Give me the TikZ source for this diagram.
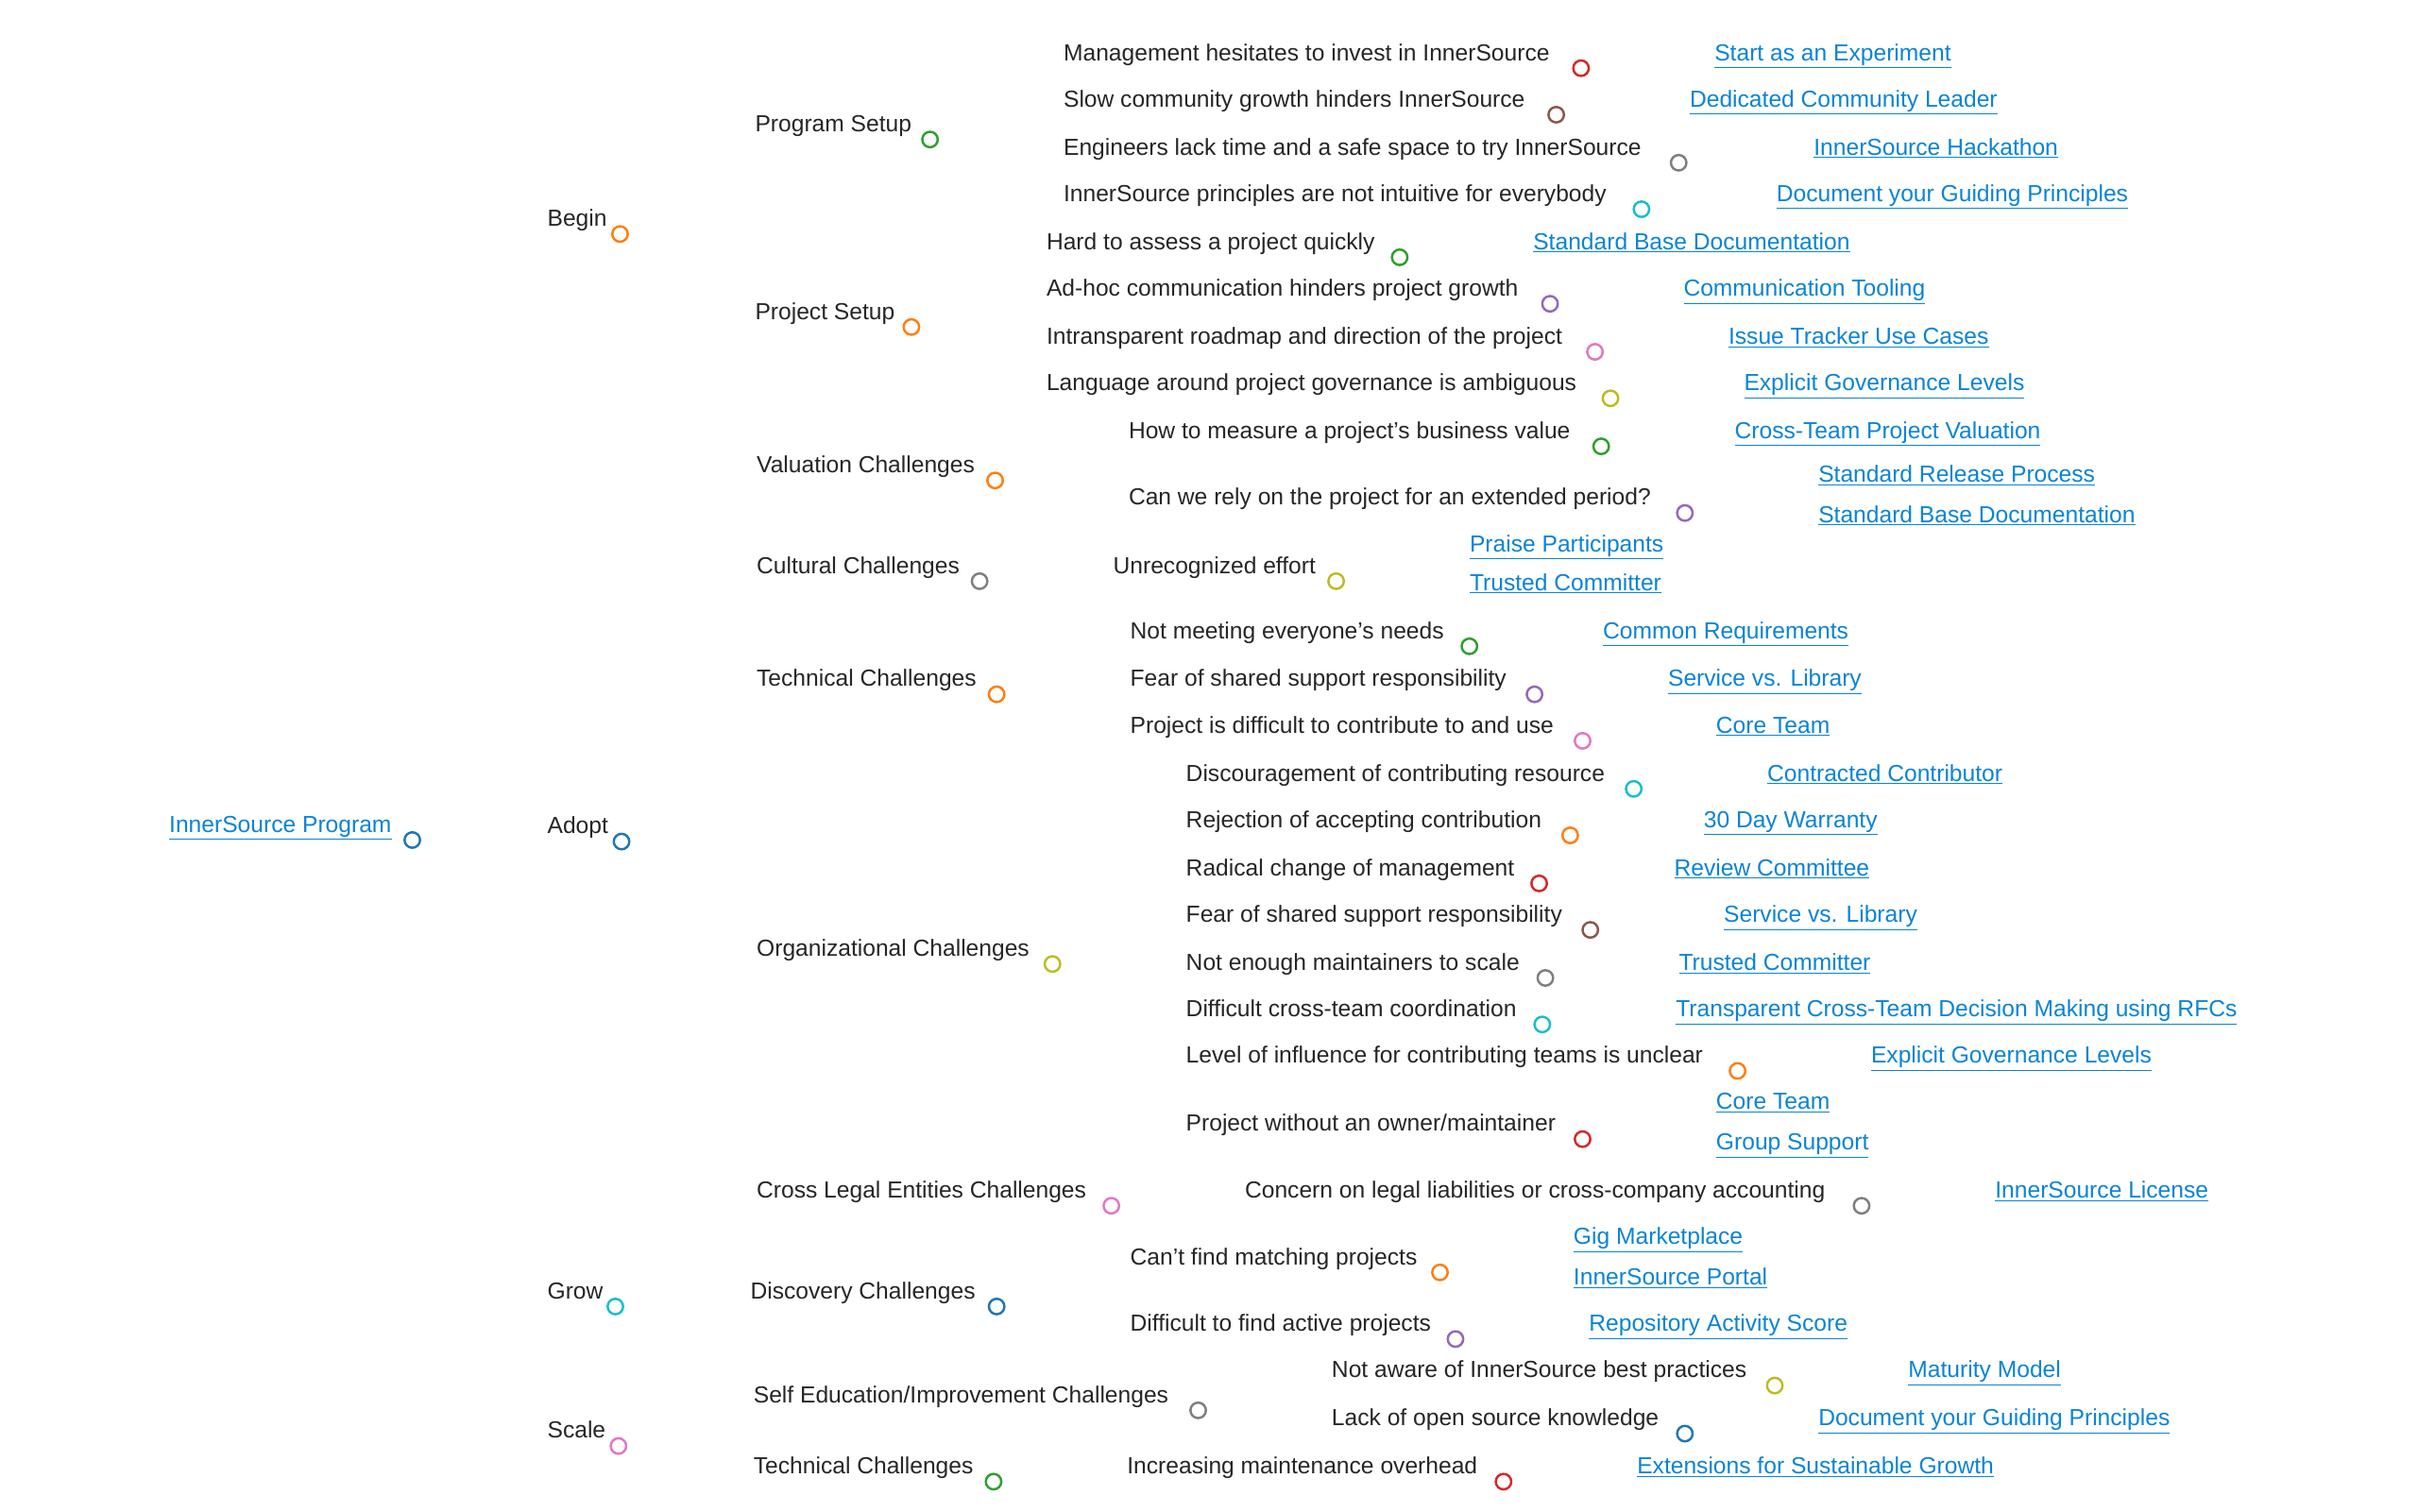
\documentclass[tikz,border=0pt]{standalone}
\usepackage{fontspec}
\setmainfont{Liberation Sans}
\usetikzlibrary{calc}
\pgfdeclarelayer{bg}\pgfsetlayers{bg,main}
\definecolor{cblue}{HTML}{1F77B4}\definecolor{corange}{HTML}{FF7F0E}
\definecolor{cgreen}{HTML}{2CA02C}\definecolor{cred}{HTML}{D62728}
\definecolor{cpurple}{HTML}{9467BD}\definecolor{cbrown}{HTML}{8C564B}
\definecolor{cpink}{HTML}{E377C2}\definecolor{cgray}{HTML}{7F7F7F}
\definecolor{colive}{HTML}{BCBD22}\definecolor{ccyan}{HTML}{17BECF}
\definecolor{link}{HTML}{0A84D6}
\tikzset{
 edge/.style={line width=1.5pt},
 txt/.style={anchor=base west,inner sep=0pt,font=\fontsize{15}{18}\selectfont,text=black!85},
 lnk/.style={txt,text=link},
 dot/.style={circle,fill=white,line width=1.5pt,minimum size=10pt,inner sep=0pt}
}
\newcommand\mnode[7]{%
 \coordinate (#1-l) at (#3-9,#4);\coordinate (#1) at (#5,#4);
 \coordinate (#1-m) at ($(#2)!0.5!(#1-l)$);
 \begin{pgfonlayer}{bg}\draw[edge,#6] (#2) .. controls (#1-m |- #2) and (#1-m |- #1-l) .. (#1-l) -- (#1);\end{pgfonlayer}
 \node[txt] (#1-t) at (#3,#4-5) {#7};
 \node[dot,draw=#6] (#1-d) at (#1) {};}
\newcommand\mleaf[7]{%
 \coordinate (#1-l) at (#3-9,#4);\coordinate (#1) at (#5,#4);
 \coordinate (#1-m) at ($(#2)!0.5!(#1-l)$);
 \begin{pgfonlayer}{bg}\draw[edge,#6] (#2) .. controls (#1-m |- #2) and (#1-m |- #1-l) .. (#1-l) -- (#1);\end{pgfonlayer}
 \node[lnk] (#1-t) at (#3,#4-5) {\underline{#7}};}
\begin{document}
\begin{tikzpicture}[x=1pt,y=-1pt]
\useasboundingbox[fill=white] (0,0) rectangle (1560,975);
\coordinate (root) at (266,542);\coordinate (root-l) at (100,542);
\begin{pgfonlayer}{bg}\draw[line width=2.2pt,cblue] (root-l) -- (root);\end{pgfonlayer}
\node[lnk] (root-t) at (109,537) {\underline{InnerSource Program}};
\node[dot,draw=cblue] (root-d) at (root) {};
% Begin
\mnode{beg}{root}{353}{151}{400}{corange}{Begin}
\mnode{ps}{beg}{487}{90}{600}{cgreen}{Program Setup}
\mnode{a1}{ps}{686}{44}{1020}{cred}{Management hesitates to invest in InnerSource}
\mleaf{b1}{a1}{1106}{44}{1275}{cpurple}{Start as an Experiment}
\mnode{a2}{ps}{686}{74}{1004}{cbrown}{Slow community growth hinders InnerSource}
\mleaf{b2}{a2}{1090}{74}{1306}{cpink}{Dedicated Community Leader}
\mnode{a3}{ps}{686}{105}{1083}{cgray}{Engineers lack time and a safe space to try InnerSource}
\mleaf{b3}{a3}{1170}{105}{1342}{colive}{InnerSource Hackathon}
\mnode{a4}{ps}{686}{135}{1059}{ccyan}{InnerSource principles are not intuitive for everybody}
\mleaf{b4}{a4}{1146}{135}{1391}{cblue}{Document your Guiding Principles}
\mnode{pj}{beg}{487}{211}{588}{corange}{Project Setup}
\mnode{a5}{pj}{675}{166}{903}{cgreen}{Hard to assess a project quickly}
\mleaf{b5}{a5}{989}{166}{1211}{cred}{Standard Base Documentation}
\mnode{a6}{pj}{675}{196}{1000}{cpurple}{Ad-hoc communication hinders project growth}
\mleaf{b6}{a6}{1086}{196}{1257}{cbrown}{Communication Tooling}
\mnode{a7}{pj}{675}{227}{1029}{cpink}{Intransparent roadmap and direction of the project}
\mleaf{b7}{a7}{1115}{227}{1299}{cgray}{Issue Tracker Use Cases}
\mnode{a8}{pj}{675}{257}{1039}{colive}{Language around project governance is ambiguous}
\mleaf{b8}{a8}{1125}{257}{1322}{ccyan}{Explicit Governance Levels}
% Adopt
\mnode{ado}{root}{353}{543}{401}{cblue}{Adopt}
\mnode{vc}{ado}{488}{310}{642}{corange}{Valuation Challenges}
\mnode{c1}{vc}{728}{288}{1033}{cgreen}{How to measure a project's business value}
\mleaf{d1}{c1}{1119}{288}{1333}{cred}{Cross-Team Project Valuation}
\mnode{c2}{vc}{728}{331}{1087}{cpurple}{Can we rely on the project for an extended period?}
\mleaf{d2}{c2}{1173}{316}{1368}{cbrown}{Standard Release Process}
\mleaf{d3}{c2}{1173}{342}{1395}{cpink}{Standard Base Documentation}
\mnode{cc}{ado}{488}{375}{632}{cgray}{Cultural Challenges}
\mnode{c3}{cc}{718}{375}{862}{colive}{Unrecognized effort}
\mleaf{d4}{c3}{948}{361}{1087}{ccyan}{Praise Participants}
\mleaf{d5}{c3}{948}{386}{1087}{cblue}{Trusted Committer}
\mnode{tc}{ado}{488}{448}{643}{corange}{Technical Challenges}
\mnode{c4}{tc}{729}{417}{948}{cgreen}{Not meeting everyone's needs}
\mleaf{d6}{c4}{1034}{417}{1209}{cred}{Common Requirements}
\mnode{c5}{tc}{729}{448}{990}{cpurple}{Fear of shared support responsibility}
\mleaf{d7}{c5}{1076}{448}{1215}{cbrown}{Service vs. Library}
\mnode{c6}{tc}{729}{478}{1021}{cpink}{Project is difficult to contribute to and use}
\mleaf{d8}{c6}{1107}{478}{1192}{cgray}{Core Team}
\mnode{oc}{ado}{488}{622}{679}{colive}{Organizational Challenges}
\mnode{e1}{oc}{765}{509}{1054}{ccyan}{Discouragement of contributing resource}
\mleaf{f1}{e1}{1140}{509}{1308}{cblue}{Contracted Contributor}
\mnode{e2}{oc}{765}{539}{1013}{corange}{Rejection of accepting contribution}
\mleaf{f2}{e2}{1099}{539}{1226}{cgreen}{30 Day Warranty}
\mnode{e3}{oc}{765}{570}{993}{cred}{Radical change of management}
\mleaf{f3}{e3}{1080}{570}{1221}{cpurple}{Review Committee}
\mnode{e4}{oc}{765}{600}{1026}{cbrown}{Fear of shared support responsibility}
\mleaf{f4}{e4}{1112}{600}{1250}{cpink}{Service vs. Library}
\mnode{e5}{oc}{765}{631}{997}{cgray}{Not enough maintainers to scale}
\mleaf{f5}{e5}{1083}{631}{1222}{colive}{Trusted Committer}
\mnode{e6}{oc}{765}{661}{995}{ccyan}{Difficult cross-team coordination}
\mleaf{f6}{e6}{1081}{661}{1467}{cblue}{Transparent Cross-Team Decision Making using RFCs}
\mnode{e7}{oc}{765}{691}{1121}{corange}{Level of influence for contributing teams is unclear}
\mleaf{f7}{e7}{1207}{691}{1405}{cgreen}{Explicit Governance Levels}
\mnode{e8}{oc}{765}{735}{1021}{cred}{Project without an owner/maintainer}
\mleaf{f8}{e8}{1107}{721}{1192}{cpurple}{Core Team}
\mleaf{f9}{e8}{1107}{747}{1218}{cbrown}{Group Support}
\mnode{lc}{ado}{488}{778}{717}{cpink}{Cross Legal Entities Challenges}
\mnode{g1}{lc}{803}{778}{1201}{cgray}{Concern on legal liabilities or cross-company accounting}
\mleaf{h1}{g1}{1287}{778}{1440}{colive}{InnerSource License}
% Grow
\mnode{gro}{root}{353}{843}{397}{ccyan}{Grow}
\mnode{dc}{gro}{484}{843}{643}{cblue}{Discovery Challenges}
\mnode{g2}{dc}{729}{821}{929}{corange}{Can't find matching projects}
\mleaf{h2}{g2}{1015}{808}{1139}{cgreen}{Gig Marketplace}
\mleaf{h3}{g2}{1015}{834}{1155}{cred}{InnerSource Portal}
\mnode{g3}{dc}{729}{864}{939}{cpurple}{Difficult to find active projects}
\mleaf{h4}{g3}{1025}{864}{1207}{cbrown}{Repository Activity Score}
% Scale
\mnode{sca}{root}{353}{933}{399}{cpink}{Scale}
\mnode{se}{sca}{486}{910}{773}{cgray}{Self Education/Improvement Challenges}
\mnode{g4}{se}{859}{894}{1145}{colive}{Not aware of InnerSource best practices}
\mleaf{h5}{g4}{1231}{894}{1343}{ccyan}{Maturity Model}
\mnode{g5}{se}{859}{925}{1087}{cblue}{Lack of open source knowledge}
\mleaf{h6}{g5}{1173}{925}{1419}{corange}{Document your Guiding Principles}
\mnode{st}{sca}{486}{956}{641}{cgreen}{Technical Challenges}
\mnode{g6}{st}{727}{956}{970}{cred}{Increasing maintenance overhead}
\mleaf{h7}{g6}{1056}{956}{1305}{cpurple}{Extensions for Sustainable Growth}
\end{tikzpicture}
\end{document}
